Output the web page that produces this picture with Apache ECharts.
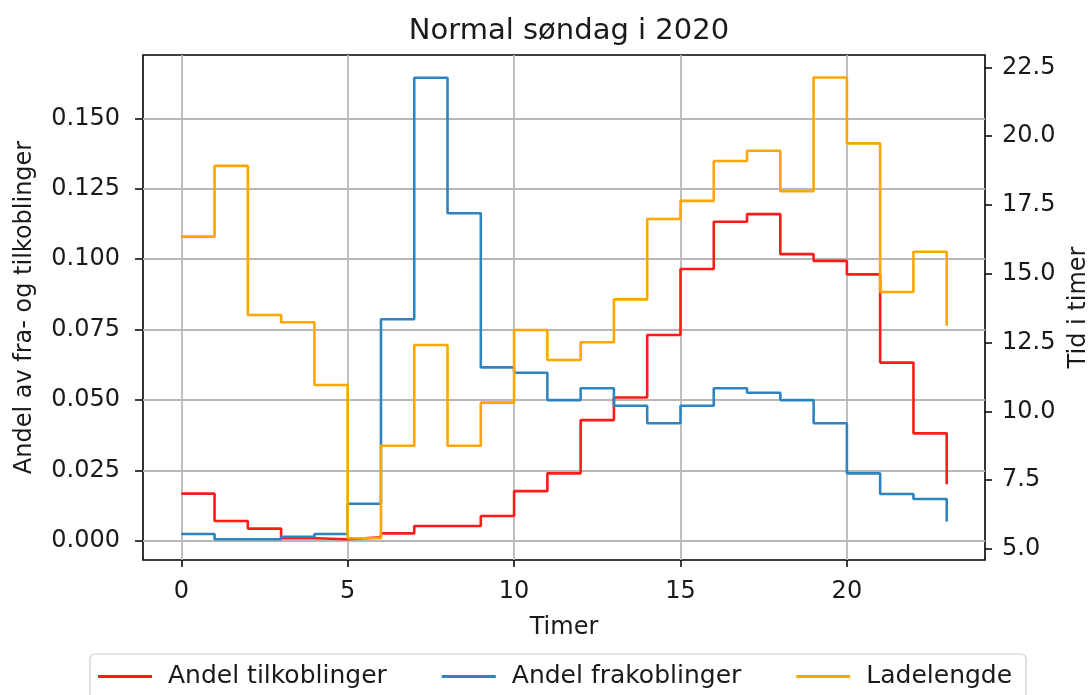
<!DOCTYPE html>
<html>
<head>
<meta charset="utf-8">
<script src="https://cdn.jsdelivr.net/npm/echarts@6/dist/echarts.min.js"></script>
<style>
html,body{margin:0;padding:0;background:#fff;}
#chart{width:1089px;height:695px;}
</style>
</head>
<body>
<div id="chart"></div>
<script>
// ---- data ----
const hours = [0,1,2,3,4,5,6,7,8,9,10,11,12,13,14,15,16,17,18,19,20,21,22,23];
const andelTilkoblinger = [0.0168,0.0071,0.0044,0.0010,0.0006,0.0013,0.0027,0.0053,0.0053,0.0089,0.0177,0.0240,0.0429,0.0509,0.0731,0.0965,0.1133,0.1160,0.1018,0.0994,0.0946,0.0633,0.0382,0.0201];
const andelFrakoblinger = [0.0025,0.0006,0.0006,0.0015,0.0025,0.0132,0.0787,0.1644,0.1163,0.0616,0.0597,0.0500,0.0542,0.0480,0.0418,0.0480,0.0542,0.0526,0.0500,0.0418,0.0240,0.0167,0.0149,0.0069];
const ladelengde = [16.35,18.92,13.50,13.24,10.96,5.39,8.75,12.41,8.75,10.32,12.96,11.87,12.51,14.07,16.99,17.65,19.10,19.47,18.00,22.13,19.74,14.34,15.80,13.11];
const xTicks = [0,5,10,15,20];
const leftTicks = [0,0.025,0.05,0.075,0.1,0.125,0.15];
const rightTicks = [5,7.5,10,12.5,15,17.5,20,22.5];
const seriesNames = ['Andel tilkoblinger','Andel frakoblinger','Ladelengde'];
const titleText = 'Normal søndag i 2020';
const xName = 'Timer';
const leftName = 'Andel av fra- og tilkoblinger';
const rightName = 'Tid i timer';

const pairs = (arr) => hours.map((h, i) => [h, arr[i]]);
const FONT = 'DejaVu Sans';
const TXT = '#1a1a1a';

const chart = echarts.init(document.getElementById('chart'), null, {renderer: 'canvas'});
chart.setOption({
  backgroundColor: '#ffffff',
  animation: false,
  title: {
    text: titleText,
    left: 564, top: 12, textAlign: 'center',
    textStyle: {fontFamily: FONT, fontSize: 29, fontWeight: 'normal', color: TXT}
  },
  grid: {
    left: 143, right: 104, top: 55, bottom: 135,
    outerBoundsMode: 'none', containLabel: false,
    show: true, borderColor: '#000', borderWidth: 1.6, backgroundColor: '#fff'
  },
  legend: {
    left: 90, top: 654,
    padding: [10, 14, 20, 8],
    itemWidth: 54, itemHeight: 3, itemGap: 55,
    icon: 'rect',
    borderColor: '#d0d0d0', borderWidth: 1.2, borderRadius: 5,
    textStyle: {fontFamily: FONT, fontSize: 25, color: TXT, padding: [0,0,0,11]},
    data: seriesNames
  },
  xAxis: {
    type: 'value', min: -1.15, max: 24.15,
    name: xName, nameLocation: 'middle', nameGap: 56,
    nameTextStyle: {fontFamily: FONT, fontSize: 24, color: TXT},
    axisLine: {show: false, onZero: false},
    axisTick: {show: true, length: 7, customValues: xTicks, lineStyle: {color: '#000', width: 1.5}},
    axisLabel: {customValues: xTicks, margin: 20, fontFamily: FONT, fontSize: 24, color: TXT},
    splitLine: {show: true, lineStyle: {color: '#b8b8b8', width: 1.8}}
  },
  yAxis: [
    {
      type: 'value', position: 'left', min: -0.00674, max: 0.17246,
      name: leftName, nameLocation: 'middle', nameGap: 106,
      nameTextStyle: {fontFamily: FONT, fontSize: 24, color: TXT},
      axisLine: {show: false, onZero: false},
      axisTick: {show: true, length: 8, customValues: leftTicks, lineStyle: {color: '#000', width: 1.5}},
      axisLabel: {customValues: leftTicks, margin: 23, fontFamily: FONT, fontSize: 24, color: TXT,
                  formatter: v => v.toFixed(3)},
      splitLine: {show: true, lineStyle: {color: '#b8b8b8', width: 1.8}}
    },
    {
      type: 'value', position: 'right', min: 4.60, max: 22.95,
      name: rightName, nameLocation: 'middle', nameGap: 72,
      nameTextStyle: {fontFamily: FONT, fontSize: 24, color: TXT},
      axisLine: {show: false, onZero: false},
      axisTick: {show: true, length: 7, customValues: rightTicks, lineStyle: {color: '#000', width: 1.5}},
      axisLabel: {customValues: rightTicks, margin: 17, fontFamily: FONT, fontSize: 24, color: TXT,
                  formatter: v => v.toFixed(1)},
      splitLine: {show: false}
    }
  ],
  series: [
    {name: seriesNames[0], type: 'line', step: 'end', yAxisIndex: 0, data: pairs(andelTilkoblinger),
     symbol: 'none', color: '#ff1a1a', lineStyle: {width: 2.6, color: '#ff1a1a'}},
    {name: seriesNames[1], type: 'line', step: 'end', yAxisIndex: 0, data: pairs(andelFrakoblinger),
     symbol: 'none', color: '#2f84c0', lineStyle: {width: 2.6, color: '#2f84c0'}},
    {name: seriesNames[2], type: 'line', step: 'end', yAxisIndex: 1, data: pairs(ladelengde),
     symbol: 'none', color: '#ffa500', lineStyle: {width: 2.6, color: '#ffa500'}}
  ]
});
</script>
</body>
</html>
